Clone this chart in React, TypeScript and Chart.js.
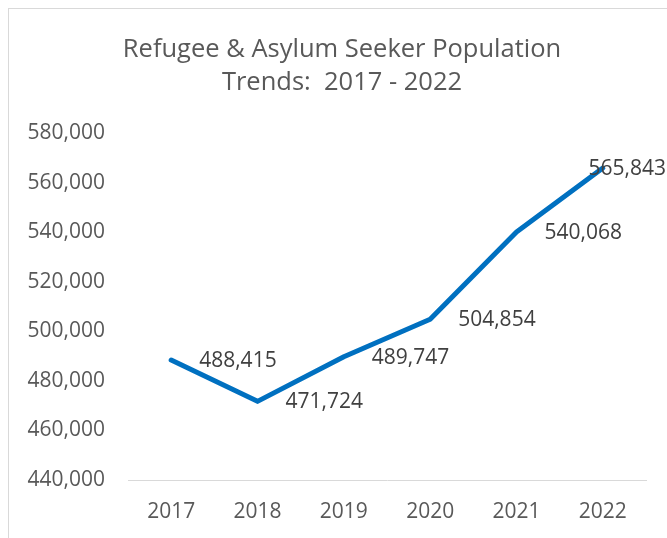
import React, { useEffect, useRef } from "react";
import { Chart, registerables } from "chart.js";

Chart.register(...registerables);

const titleLines = ["Refugee & Asylum Seeker Population", "Trends:  2017 - 2022"];
const years = ["2017", "2018", "2019", "2020", "2021", "2022"];
const population = [488415, 471724, 489747, 504854, 540068, 565843];
const yMin = 440000;
const yMax = 580000;
const yStep = 20000;

const FONT = "'Open Sans', sans-serif";
const CANVAS_W = 658;
const CANVAS_H = 529;

const titlePlugin = {
  id: "customTitle",
  afterDraw(chart: any) {
    const ctx = chart.ctx;
    ctx.save();
    ctx.font = `25.5px ${FONT}`;
    ctx.fillStyle = "#595959";
    ctx.textAlign = "center";
    ctx.textBaseline = "alphabetic";
    titleLines.forEach((line, i) => {
      ctx.fillText(line, 333, 48 + i * 33);
    });
    ctx.restore();
  },
};

const labelPlugin = {
  id: "pointLabels",
  afterDatasetsDraw(chart: any) {
    const ctx = chart.ctx;
    const meta = chart.getDatasetMeta(0);
    ctx.save();
    ctx.font = `21px ${FONT}`;
    ctx.fillStyle = "#404040";
    ctx.textBaseline = "middle";
    ctx.textAlign = "left";
    meta.data.forEach((pt: any, i: number) => {
      const text = population[i].toLocaleString("en-US");
      const w = ctx.measureText(text).width;
      let x = pt.x + 28;
      if (x + w > CANVAS_W - 1) x = CANVAS_W - 1 - w;
      ctx.fillText(text, x, pt.y + 1);
    });
    ctx.restore();
  },
};

export default function App() {
  const ref = useRef<HTMLCanvasElement>(null);
  useEffect(() => {
    if (!ref.current) return;
    const chart = new Chart(ref.current, {
      type: "line",
      data: {
        labels: years,
        datasets: [
          {
            data: population,
            borderColor: "#0070C0",
            borderWidth: 5,
            pointRadius: 0,
            tension: 0,
            borderCapStyle: "round",
            borderJoinStyle: "round",
          },
        ],
      },
      options: {
        animation: false,
        responsive: false,
        layout: { padding: { left: 0, right: 21, top: 124, bottom: 0 } },
        plugins: {
          legend: { display: false },
          tooltip: { enabled: false },
          title: { display: false },
        },
        scales: {
          x: {
            offset: true,
            grid: { display: false, drawTicks: false },
            border: { display: true, color: "#d9d9d9", width: 1 },
            ticks: {
              color: "#595959",
              font: { family: FONT, size: 21 },
              padding: 19,
              maxRotation: 0,
            },
            afterFit(scale: any) {
              scale.height = 58;
            },
          },
          y: {
            min: yMin,
            max: yMax,
            grid: { display: false, drawTicks: false },
            border: { display: false },
            ticks: {
              stepSize: yStep,
              color: "#595959",
              font: { family: FONT, size: 21 },
              padding: 23,
              callback: (v: any) => Number(v).toLocaleString("en-US"),
            },
            afterFit(scale: any) {
              scale.width = 119;
            },
          },
        },
      },
      plugins: [labelPlugin, titlePlugin],
    } as any);
    return () => chart.destroy();
  }, []);
  return (
    <div
      style={{
        position: "fixed",
        left: 0,
        top: 0,
        width: "100vw",
        height: "100vh",
        background: "#fff",
        overflow: "hidden",
      }}
    >
      <div
        style={{
          position: "absolute",
          left: 8,
          top: 8,
          width: 659,
          height: 530,
          boxSizing: "border-box",
          borderTop: "1px solid #d9d9d9",
          borderLeft: "1px solid #d9d9d9",
          overflow: "hidden",
        }}
      >
        <canvas ref={ref} width={CANVAS_W} height={CANVAS_H} style={{ display: "block" }} />
      </div>
    </div>
  );
}
